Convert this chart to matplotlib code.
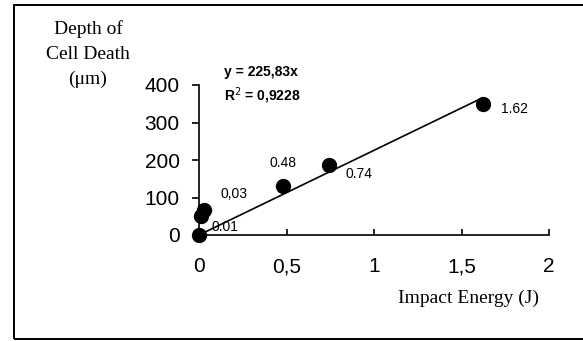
import matplotlib
matplotlib.use("Agg")
import matplotlib.pyplot as plt
from matplotlib.patches import Rectangle
import numpy as np

# Data
energy = [0.0, 0.01, 0.03, 0.48, 0.74, 1.62]
depth = [0, 52, 66, 130, 187, 349]
point_labels = ["", "0.01", "0,03", "0.48", "0.74", "1.62"]
slope = 225.83
r2 = 0.9228
x_ticks = [0, 0.5, 1, 1.5, 2]
x_ticklabels = ["0", "0,5", "1", "1,5", "2"]
y_ticks = [0, 100, 200, 300, 400]

fig = plt.figure(figsize=(5.83, 3.41), dpi=100)
ax = fig.add_axes([199/583, 1 - 235/341, 350/583, 150/341])

# outer frame
fig.patches.append(Rectangle((14/583, 1 - 339/341), 1.2, (339 - 5)/341,
                             transform=fig.transFigure, fill=False,
                             edgecolor="black", linewidth=1.4, clip_on=False))

# trend line
xl = np.array([0, energy[-1]])
ax.plot(xl, slope * xl, color="black", linewidth=1.2, zorder=2)
ax.plot(energy, depth, "o", color="black", markersize=10, zorder=3, clip_on=False)

# point labels (offsets in points)
offsets = {1: (8, -8), 2: (12, 12), 3: (0, 16.5), 4: (12, -6.5), 5: (13, -3.6)}
for i, lab in enumerate(point_labels):
    if not lab:
        continue
    dx, dy = offsets[i]
    ax.annotate(lab, (energy[i], depth[i]), xytext=(dx, dy), textcoords="offset points",
                ha="left" if i != 3 else "center", va="center", fontsize=10,
                family="Liberation Sans")

ax.text(224/583, 1 - 72/341, "y = 225,83x", transform=fig.transFigure,
        fontsize=10, fontweight="bold", family="Liberation Sans", va="center", ha="left")
ax.text(224/583, 1 - 96/341, "R$^{2}$ = 0,9228", transform=fig.transFigure,
        fontsize=10, fontweight="bold", family="Liberation Sans", va="center", ha="left")

ax.set_xlim(0, 2)
ax.set_ylim(0, 400)
ax.set_xticks(x_ticks)
ax.set_xticklabels(x_ticklabels)
ax.set_yticks(y_ticks)
for s in ["top", "right"]:
    ax.spines[s].set_visible(False)
for s in ["left", "bottom"]:
    ax.spines[s].set_linewidth(1.2)
ax.tick_params(axis="x", direction="in", length=4, width=1.2, pad=16, labelsize=15)
ax.tick_params(axis="y", direction="out", length=5, width=1.2, pad=9, labelsize=15)
for lab in ax.get_xticklabels() + ax.get_yticklabels():
    lab.set_family("Liberation Sans")

fig.text(469/583, 1 - 298/341, "Impact Energy (J)", ha="center", va="center",
         fontsize=14, family="Liberation Serif")
fig.text(88/583, 1 - 54/341, "Depth of\nCell Death\n(\u03bcm)", ha="center", va="center",
         fontsize=14, family="Liberation Serif", linespacing=1.6)

fig.savefig("out.png", dpi=100)
